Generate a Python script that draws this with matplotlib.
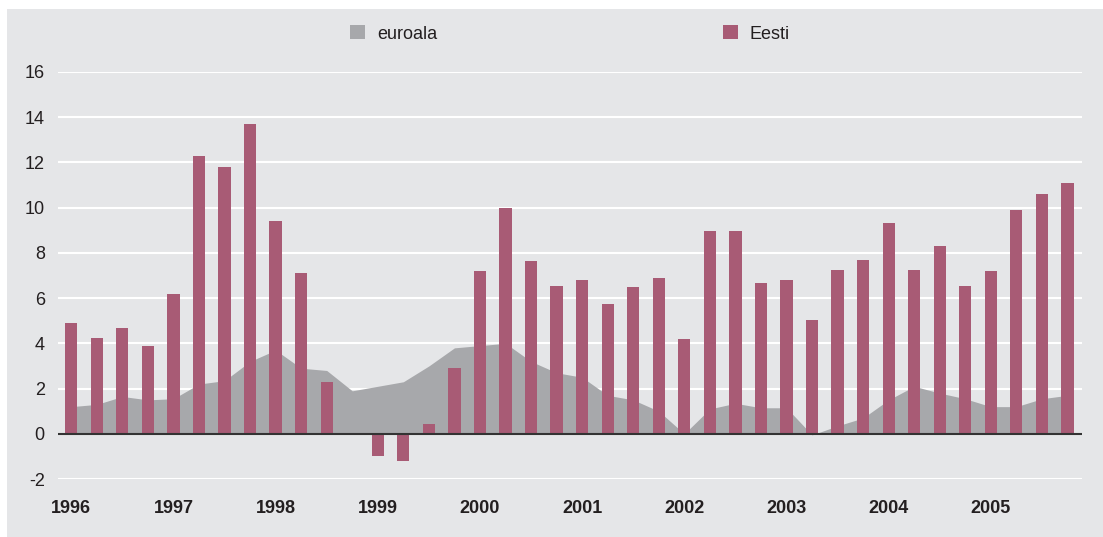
import numpy as np
import matplotlib.pyplot as plt
from matplotlib.patches import Rectangle, Patch

plt.rcParams["font.family"] = ["Liberation Sans", "DejaVu Sans"]
plt.rcParams["axes.unicode_minus"] = False

# quarterly data 1996Q1 .. 2005Q4
years = ["1996", "1997", "1998", "1999", "2000", "2001", "2002", "2003", "2004", "2005"]
eesti = [4.9, 4.25, 4.7, 3.9,
         6.2, 12.3, 11.8, 13.7,
         9.4, 7.1, 2.3, 0.0,
         -1.0, -1.2, 0.45, 2.9,
         7.2, 10.0, 7.65, 6.55,
         6.8, 5.75, 6.5, 6.9,
         4.2, 8.95, 8.95, 6.65,
         6.8, 5.05, 7.25, 7.7,
         9.3, 7.25, 8.3, 6.55,
         7.2, 9.9, 10.6, 11.1]
euroala = [1.2, 1.3, 1.65, 1.5,
           1.55, 2.2, 2.35, 3.2,
           3.7, 2.9, 2.8, 1.9,
           2.1, 2.3, 3.0, 3.8,
           3.9, 4.0, 3.2, 2.7,
           2.5, 1.7, 1.5, 1.0,
           0.0, 1.1, 1.35, 1.15,
           1.15, -0.05, 0.35, 0.7,
           1.5, 2.1, 1.8, 1.55,
           1.2, 1.2, 1.55, 1.7]

bg = "#e5e6e8"
bar_col = "#a85b75"
area_col = "#a7a8ab"
txt = "#231f20"

W, H = 1103, 537
fig = plt.figure(figsize=(W / 100, H / 100), dpi=100, facecolor="white")
fig.patches.append(Rectangle((7 / W, 0), 1 - 7 / W, 1 - 9 / H,
                             transform=fig.transFigure, facecolor=bg,
                             edgecolor="none", zorder=-10))

ax = fig.add_axes([58 / W, 58 / H, (1082 - 58) / W, (479 - 72) / H])
ax.set_facecolor(bg)
for s in ax.spines.values():
    s.set_visible(False)

x = np.arange(len(eesti))
ax.fill_between(x, 0, euroala, color=area_col, linewidth=0, zorder=2)
ax.bar(x, eesti, width=0.48, color=bar_col, zorder=3)
ax.axhline(0, color="#333333", linewidth=1.5, zorder=4)

ax.set_xlim(-0.52, 39.57)
ax.set_ylim(-2, 16)
ax.set_yticks(range(-2, 17, 2))
ax.yaxis.grid(True, color="white", linewidth=1.5, zorder=0)
ax.set_axisbelow(True)
ax.set_xticks(np.arange(0, 40, 4))
ax.set_xticklabels(years, fontsize=13, fontweight="bold", color=txt)
ax.tick_params(axis="x", length=0, pad=15)
ax.tick_params(axis="y", length=0, pad=9.5, labelsize=13, labelcolor=txt)

handles = [Patch(facecolor=area_col, edgecolor="none"),
           Patch(facecolor=bar_col, edgecolor="none")]
fig.legend(handles, ["euroala", "Eesti"], loc="center", ncol=2,
           bbox_to_anchor=(570 / W, 1 - 34 / H), frameon=False,
           fontsize=13, handlelength=0.83, handleheight=0.83,
           handletextpad=0.66, columnspacing=15.8, labelcolor=txt)

fig.savefig("out.png", dpi=100, facecolor="white")
